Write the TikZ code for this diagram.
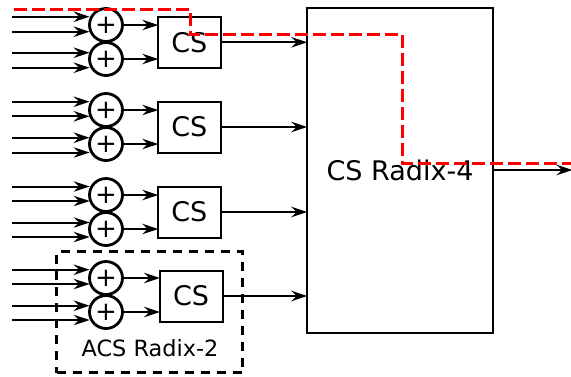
\documentclass[tikz,border=0pt]{standalone}
\usepackage{fontspec}
\setmainfont{DejaVu Sans}
\usetikzlibrary{arrows.meta,calc}
\tikzset{
  x=1pt,y=-1pt,
  wire/.style={line width=2pt,black,shorten >=-1.5pt,-{Stealth[length=16pt,width=10.5pt,inset=5.5pt]}},
  adder/.style={circle,draw,line width=2.8pt,minimum size=33pt,inner sep=0pt,font=\fontsize{26}{26}\selectfont,fill=white},
  csbox/.style={rectangle,draw,line width=2pt,minimum width=63pt,minimum height=51pt,inner sep=0pt,font=\fontsize{27}{27}\selectfont,fill=white},
  bigbox/.style={rectangle,draw,line width=2pt,minimum width=186.5pt,minimum height=325pt,inner sep=0pt,font=\fontsize{27}{27}\selectfont},
  dashbox/.style={rectangle,draw,line width=2.8pt,dash pattern=on 9pt off 7pt,minimum width=186pt,minimum height=121pt,inner sep=0pt},
  lab/.style={inner sep=0pt,font=\fontsize{22.4}{22.4}\selectfont},
  redpath/.style={red,line width=3pt,dash pattern=on 13pt off 5pt},
}
\begin{document}
\begin{tikzpicture}
\useasboundingbox[fill=white] (0,0) rectangle (571,376);
\node[bigbox] (R4) at (400,170.2) {CS Radix-4};
\coordinate (out) at (571,170);

\foreach \g/\ya/\yb/\yi/\yj/\yk/\yl/\bx/\by in {
  A/25/59/16.7/31.7/52.7/67.7/189.3/42.3,
  B/110/144/101.7/116.3/137.7/152.5/189.3/127,
  C/195/229/186.5/201/222.5/237/189.3/212,
  D/278/312/269.7/284/305.7/320/191/296}{
  \node[adder] (\g a) at (106,\ya) {+};
  \node[adder] (\g b) at (106,\yb) {+};
  \node[csbox] (\g cs) at (\bx,\by) {CS};
  \coordinate (\g i1) at (12,\yi);
  \coordinate (\g i2) at (12,\yj);
  \coordinate (\g i3) at (12,\yk);
  \coordinate (\g i4) at (12,\yl);
  \draw[wire] (\g i1) -- (\g i1 -| \g a.west);
  \draw[wire] (\g i2) -- (\g i2 -| \g a.west);
  \draw[wire] (\g i3) -- (\g i3 -| \g b.west);
  \draw[wire] (\g i4) -- (\g i4 -| \g b.west);
  \draw[wire] (\g a.east) -- (\g a.east -| \g cs.west);
  \draw[wire] (\g b.east) -- (\g b.east -| \g cs.west);
  \draw[wire] (\g cs.east) -- (\g cs.east -| R4.west);
}
\draw[wire] (out -| R4.east) -- (out);
\node[dashbox] (acs) at (149.5,312.3) {};
\node[lab] (acslabel) at (150,348.5) {ACS Radix-2};
\coordinate (r0) at (14,9);
\coordinate (r1) at (190,9);
\coordinate (r2) at (190,34.5);
\coordinate (r3) at (402,34.5);
\coordinate (r4) at (402,163);
\coordinate (r5) at (571,163);
\draw[redpath] (r0) -- (r1) -- (r2) -- (r3) -- (r4) -- (r5);
\end{tikzpicture}
\end{document}
